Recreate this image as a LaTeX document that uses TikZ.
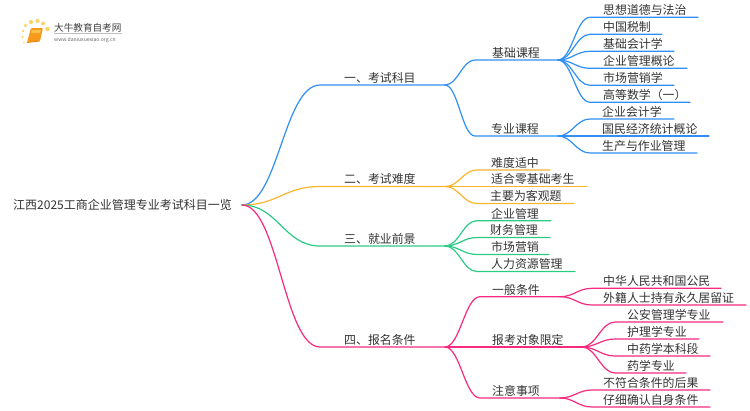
\documentclass[tikz,border=0pt]{standalone}
\usepackage{fontspec}
\setmainfont{Noto Sans CJK SC}
\usetikzlibrary{calc}
\definecolor{cblue}{HTML}{2F8FF5}
\definecolor{corange}{HTML}{FBB42E}
\definecolor{cgreen}{HTML}{2BCB85}
\definecolor{cpink}{HTML}{F52A80}
\definecolor{ctext}{HTML}{333333}
\definecolor{cdot}{HTML}{FBD36B}
\definecolor{cbook}{HTML}{F59A1C}
\definecolor{cbookl}{HTML}{FBC24A}
\definecolor{cbookd}{HTML}{E8820F}
\tikzset{
  lab/.style={anchor=base west,inner sep=0pt,text=ctext,font=\fontsize{11.9}{12}\selectfont},
  conn/.style={line width=1.2pt,line cap=round}
}
% name, line start x, text x, line end x, y, text
\newcommand{\leafitem}[6]{%
  \coordinate (#1-s) at (#2,#5);
  \coordinate (#1-e) at (#4,#5);
  \node[lab] (#1) at (#3,#5-2.6) {#6};
}
% colour, parent end, child, half-span
\newcommand{\linkitem}[4]{%
  \draw[conn,#1] (#2) .. controls +(#4,0) and +(-#4,0) .. (#3-s) -- (#3-e);
}
\begin{document}
\begin{tikzpicture}[x=1pt,y=-1pt]
\useasboundingbox (0,0) rectangle (750,410);
% logo
\foreach \px/\py/\pr in {23/31/1.4,25.5/25.5/1.9,31/22/2.1,37.5/21/2.1,43/23.5/2,47.5/29/2.3,22.5/37/1.1,24/42.5/0.9}
  \fill[cdot] (\px,\py) circle (\pr);
\fill[cbook,rounded corners=1pt] (31,28) -- (43,28) -- (40,41) -- (27,42.5) -- cycle;
\fill[cbookl] (32,30) -- (41,30) -- (40,33) -- (31,33) -- cycle;
\draw[cbookd,line width=0.8pt] (27,42.5) -- (40,41);
\node[inner sep=0pt,anchor=base west,text=black!75,font=\fontsize{9.6}{10}\selectfont] (logot) at (54,31) {大牛教育自考网};
\node[inner sep=0pt,anchor=base west,text=black!60,font=\fontsize{5.1}{6}\selectfont] (logou) at (54,41) {www.daniuxuexiao.org.cn};
\draw[black!25,line width=0.5pt] (54,33.5) -- (122,33.5);
% root
\node[lab,font=\fontsize{12}{12}\selectfont] (root) at (13,209.5) {江西2025工商企业管理专业考试科目一览};
\coordinate (root-e) at (242,205);
% level 1
\leafitem{a}{320}{344}{445}{85}{一、考试科目}
\leafitem{b}{320}{344}{445}{186.5}{二、考试难度}
\leafitem{c}{320}{344}{445}{246}{三、就业前景}
\leafitem{d}{320}{344}{445}{347}{四、报名条件}
\linkitem{cblue}{root-e}{a}{36}
\linkitem{corange}{root-e}{b}{36}
\linkitem{cgreen}{root-e}{c}{36}
\linkitem{cpink}{root-e}{d}{36}
% a
\leafitem{a1}{475}{492}{558}{60}{基础课程}
\leafitem{a2}{475}{491}{558}{136}{专业课程}
\linkitem{cblue}{a-e}{a1}{13}
\linkitem{cblue}{a-e}{a2}{13}
\leafitem{a11}{590}{603}{698}{17.3}{思想道德与法治}
\leafitem{a12}{590}{603}{662}{34.3}{中国税制}
\leafitem{a13}{590}{603}{674}{51.3}{基础会计学}
\leafitem{a14}{590}{603}{687}{68.3}{企业管理概论}
\leafitem{a15}{590}{603}{674}{85.3}{市场营销学}
\leafitem{a16}{590}{603}{690}{102.3}{高等数学（一）}
\foreach \n in {a11,a12,a13,a14,a15,a16}{\linkitem{cblue}{a1-e}{\n}{14}}
\leafitem{a21}{590}{602}{674}{119}{企业会计学}
\leafitem{a22}{590}{602}{709}{136}{国民经济统计概论}
\leafitem{a23}{590}{602}{697}{153}{生产与作业管理}
\foreach \n in {a21,a22,a23}{\linkitem{cblue}{a2-e}{\n}{14}}
% b
\leafitem{b1}{477}{491}{550}{170}{难度适中}
\leafitem{b2}{477}{491}{587}{186.5}{适合零基础考生}
\leafitem{b3}{477}{490}{574}{203.5}{主要为客观题}
\foreach \n in {b1,b2,b3}{\linkitem{corange}{b-e}{\n}{14}}
% c
\leafitem{c1}{477}{491}{551}{220.7}{企业管理}
\leafitem{c2}{477}{490}{550}{237.5}{财务管理}
\leafitem{c3}{477}{491}{549}{254.5}{市场营销}
\leafitem{c4}{477}{491}{575}{271.5}{人力资源管理}
\foreach \n in {c1,c2,c3,c4}{\linkitem{cgreen}{c-e}{\n}{14}}
% d
\leafitem{d1}{480}{492}{560}{296.7}{一般条件}
\leafitem{d2}{480}{492}{582}{347}{报考对象限定}
\leafitem{d3}{480}{492}{560}{398}{注意事项}
\foreach \n in {d1,d2,d3}{\linkitem{cpink}{d-e}{\n}{15}}
\leafitem{d11}{592}{603}{721}{288.3}{中华人民共和国公民}
\leafitem{d12}{592}{603}{746}{305}{外籍人士持有永久居留证}
\foreach \n in {d11,d12}{\linkitem{cpink}{d1-e}{\n}{14}}
\leafitem{d21}{615}{627}{723}{322}{公安管理学专业}
\leafitem{d22}{615}{627}{699}{339}{护理学专业}
\leafitem{d23}{615}{627}{710}{356}{中药学本科段}
\leafitem{d24}{615}{627}{686}{373}{药学专业}
\foreach \n in {d21,d22,d23,d24}{\linkitem{cpink}{d2-e}{\n}{14}}
\leafitem{d31}{592}{603}{710}{390}{不符合条件的后果}
\leafitem{d32}{592}{603}{710}{407}{仔细确认自身条件}
\foreach \n in {d31,d32}{\linkitem{cpink}{d3-e}{\n}{14}}
\end{tikzpicture}
\end{document}
